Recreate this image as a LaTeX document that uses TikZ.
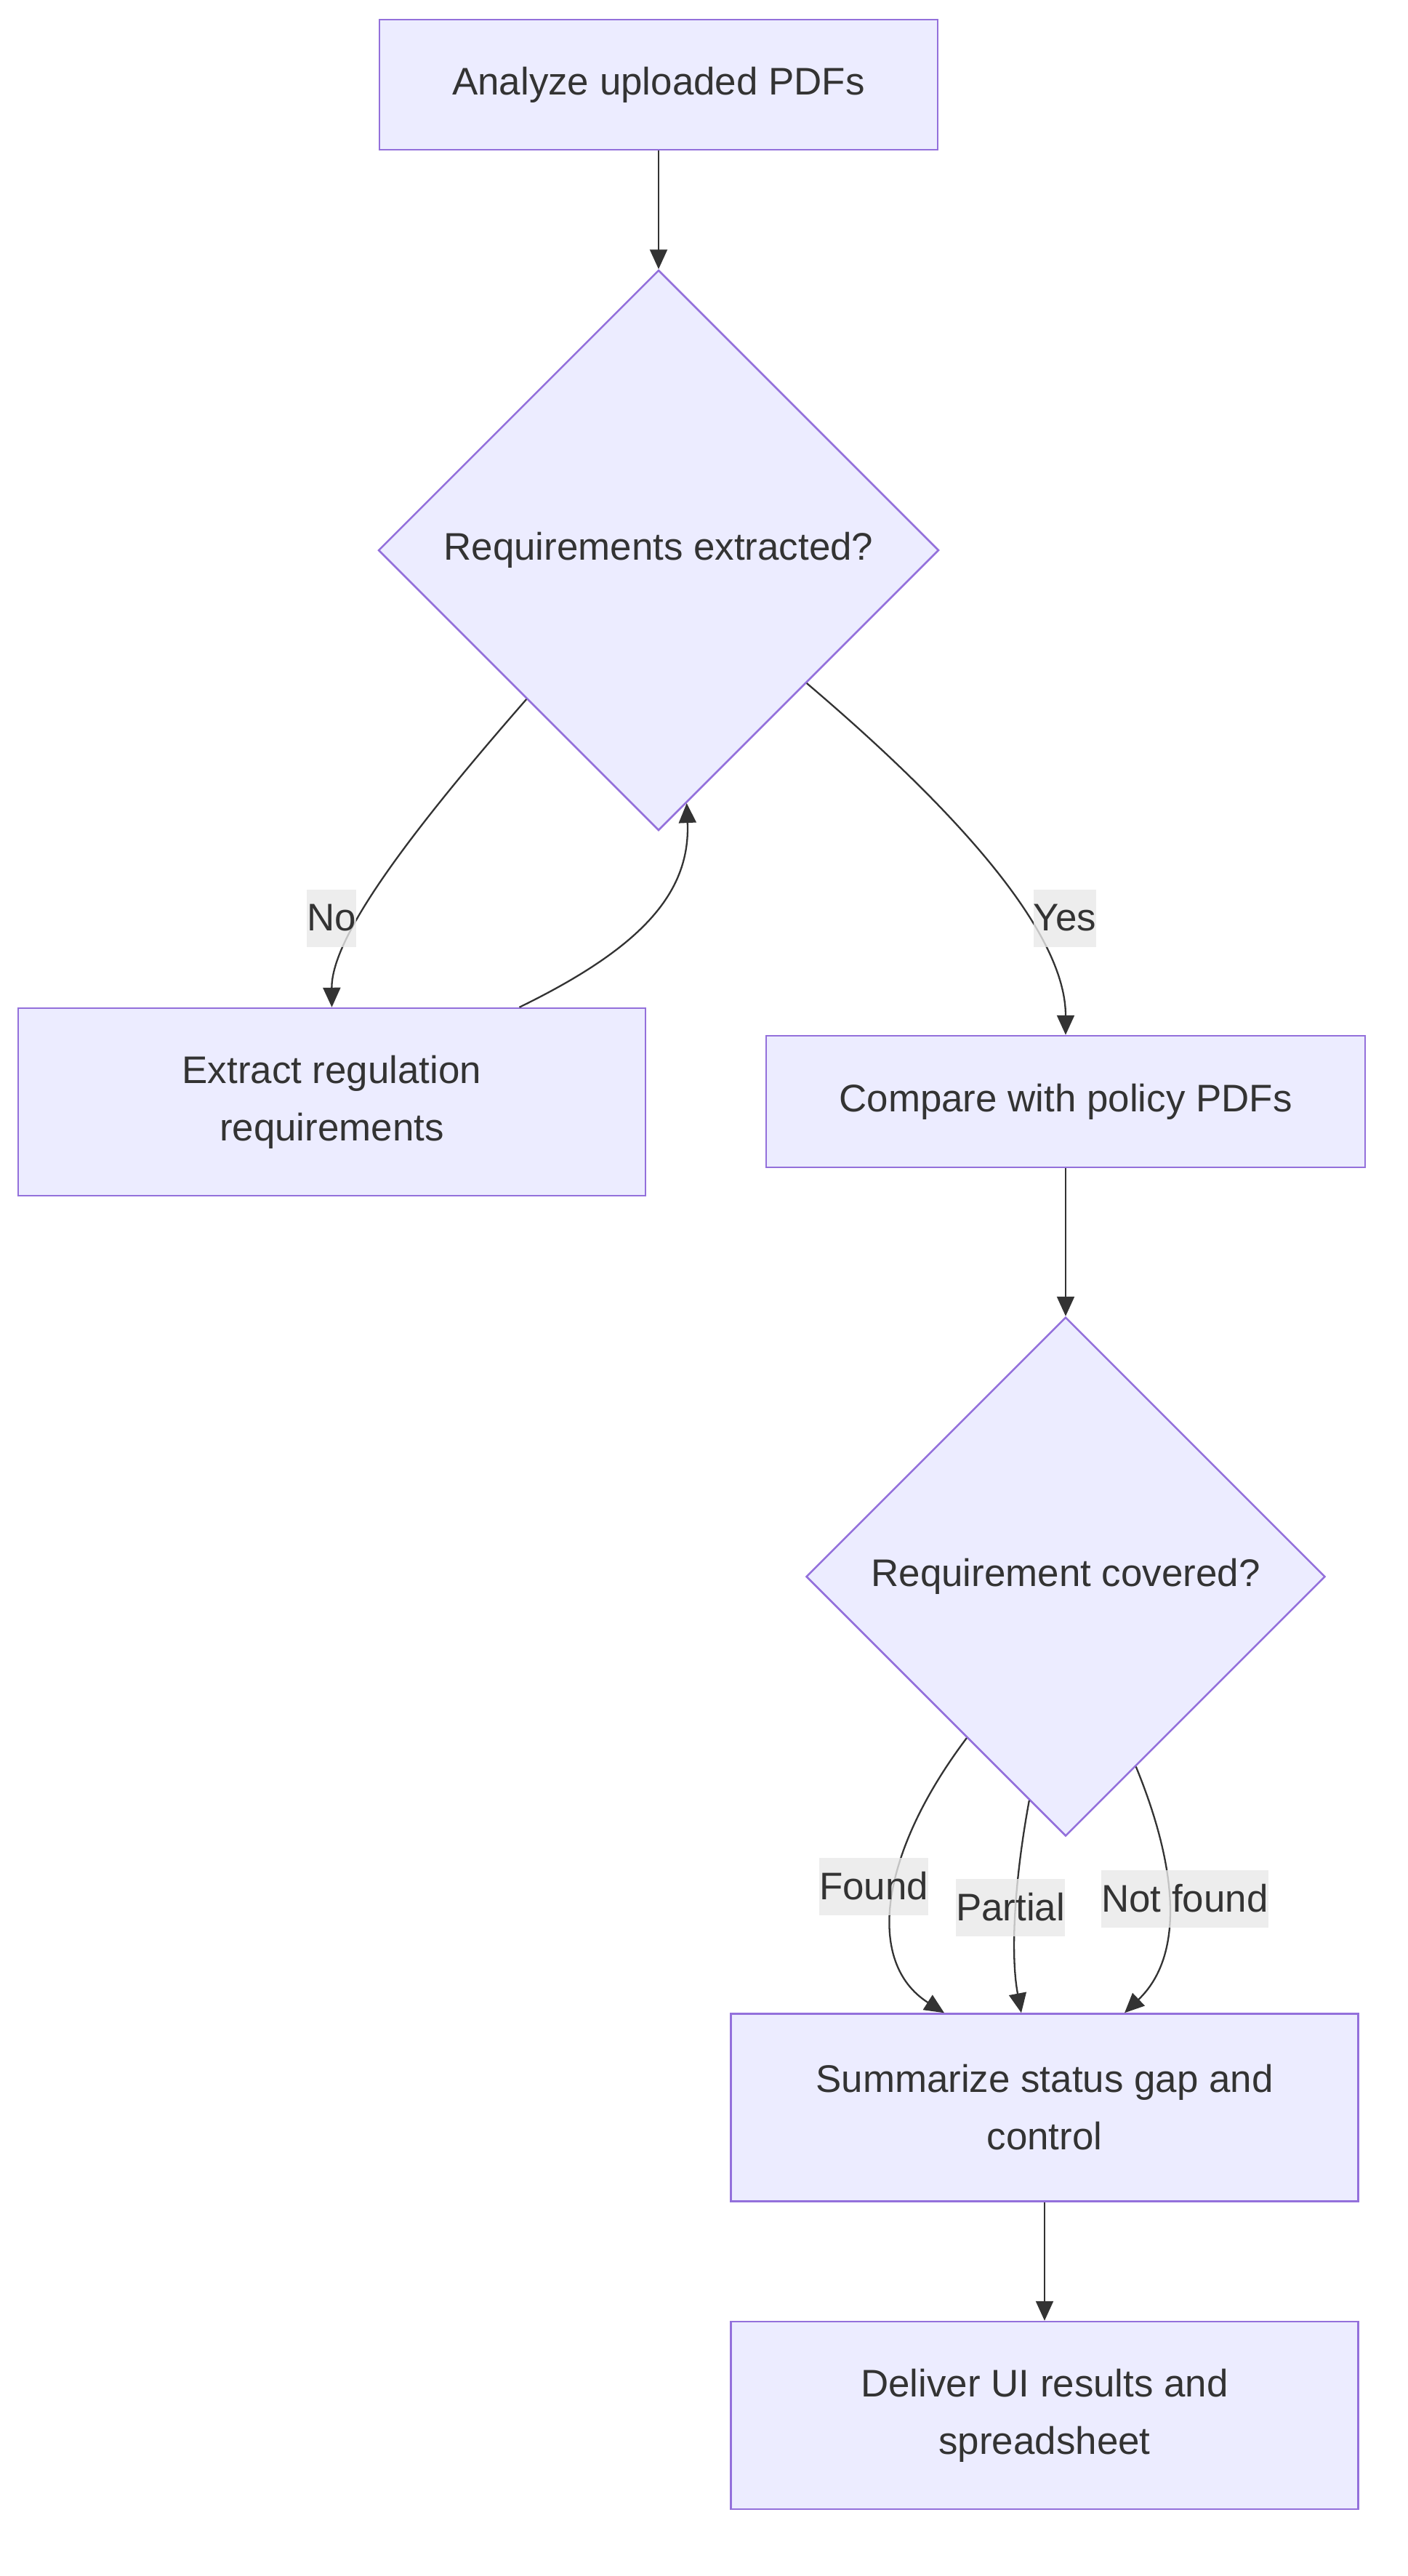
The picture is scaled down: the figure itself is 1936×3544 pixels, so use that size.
\documentclass[tikz,border=0pt]{standalone}
\usepackage{fontspec}
\setmainfont{Liberation Sans}
\usetikzlibrary{shapes.geometric,arrows.meta,calc}
\definecolor{nodefill}{HTML}{ECECFF}
\definecolor{nodeline}{HTML}{9370DB}
\definecolor{ink}{HTML}{333333}
\definecolor{lblbg}{HTML}{E8E8E8}
\newcommand\dfont{\fontsize{52.9pt}{79pt}\selectfont}
\begin{document}
\begin{tikzpicture}[x=1pt,y=-1pt,
  box/.style={draw=nodeline, fill=nodefill, line width=2.5pt, inner sep=0pt, text=ink, align=center, font=\dfont},
  dia/.style={diamond, draw=nodeline, fill=nodefill, line width=2.5pt, inner sep=0pt, minimum width=771pt, minimum height=771pt, text=ink, font=\dfont},
  lbl/.style={fill=lblbg, fill opacity=0.8, text opacity=1, text=ink, inner xsep=0pt, inner ysep=0pt, minimum height=79pt, font=\dfont},
  link/.style={draw=ink, line width=2.3pt, -{Triangle[length=27pt,width=24pt]}}]
\useasboundingbox (0,0) rectangle (1936,3544);
\node[box, minimum width=768pt, minimum height=179pt] (A) at (906,116.5) {Analyze uploaded PDFs};
\node[dia] (B) at (906,757) {Requirements extracted?};
\node[box, minimum width=863pt, minimum height=258pt] (C) at (456.5,1516) {Extract regulation\\requirements};
\node[box, minimum width=824pt, minimum height=181pt] (D) at (1466,1515.5) {Compare with policy PDFs};
\node[dia, minimum width=714pt, minimum height=714pt] (E) at (1466,2169) {Requirement covered?};
\node[box, minimum width=863pt, minimum height=258pt] (F) at (1437,2899.5) {Summarize status gap and\\control};
\node[box, minimum width=863pt, minimum height=258pt] (G) at (1437,3323) {Deliver UI results and\\spreadsheet};

\draw[link] (A.south) -- (B.north);
\draw[link] ($(B.west)!0.53!(B.south)$) .. controls (560,1150) and (456,1290) .. (C.north);
\draw[link] ($(C.north)+(258,0)$) .. controls (880,1305) and (950,1230) .. ($(B.south)!0.1!(B.east)$);
\draw[link] ($(B.south)!0.527!(B.east)$) .. controls (1310,1110) and (1466,1280) .. (D.north);
\draw[link] (D.south) -- (E.north);
\draw[link] ($(E.west)!0.62!(E.south)$) .. controls (1210,2550) and (1190,2700) .. ($(F.north)+(-138,0)$);
\draw[link] ($(E.west)!0.86!(E.south)$) .. controls (1395,2590) and (1390,2690) .. ($(F.north)+(-32,0)$);
\draw[link] ($(E.south)!0.27!(E.east)$) .. controls (1620,2570) and (1630,2690) .. ($(F.north)+(110,0)$);
\draw[link] (F.south) -- (G.north);

\node[lbl] (lno) at (456,1263) {No};
\node[lbl] (lyes) at (1465,1263) {Yes};
\node[lbl] (lfound) at (1202,2595) {Found};
\node[lbl] (lpartial) at (1390,2624) {Partial};
\node[lbl] (lnotfound) at (1630,2612) {Not found};
\end{tikzpicture}
\end{document}
